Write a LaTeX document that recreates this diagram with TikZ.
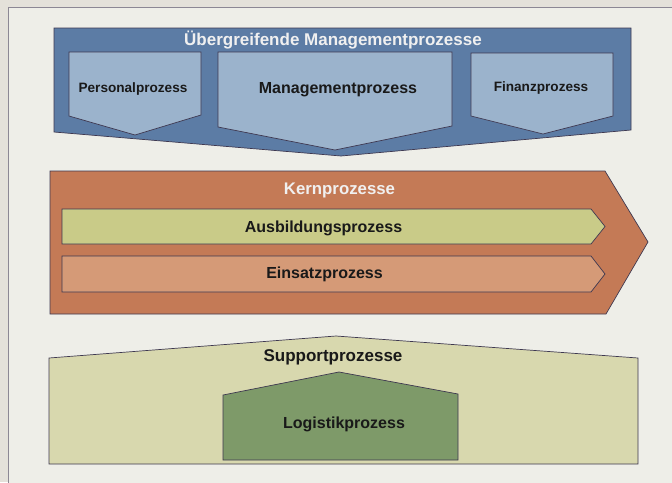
\documentclass[tikz,border=0pt]{standalone}
\usepackage{fontspec}
\setmainfont{Liberation Sans}
\begin{document}
\begin{tikzpicture}[x=1pt,y=-1pt,
  shp/.style={draw=outl, line width=0.7pt, line join=miter},
  lbl/.style={font=\bfseries, text=black!90, inner sep=0pt, anchor=center},
  wlbl/.style={font=\bfseries, text=white!94!black, inner sep=0pt, anchor=center}]
\definecolor{outl}{HTML}{3E3850}
\definecolor{bgout}{HTML}{E4E1DA}
\definecolor{bgin}{HTML}{EEEEE8}
\definecolor{frame}{HTML}{8C8794}
\definecolor{blueout}{HTML}{5C7CA5}
\definecolor{bluein}{HTML}{9BB3CC}
\definecolor{kern}{HTML}{C47A56}
\definecolor{ausb}{HTML}{C9CB88}
\definecolor{eins}{HTML}{D59A77}
\definecolor{supp}{HTML}{D8D8AE}
\definecolor{logi}{HTML}{7E9A69}
\useasboundingbox (0,0) rectangle (672,482);
\fill[bgout] (0,0) rectangle (672,482);
\draw[frame, fill=bgin, line width=1pt] (8,7) rectangle (690,500);
% top: management
\path[shp, fill=blueout] (54,28) -- (631,28) -- (631,130) -- (341,156) -- (54,132) -- cycle;
\path[shp, fill=bluein] (69,52) -- (201,52) -- (201,115) -- (135,135) -- (69,116) -- cycle;
\path[shp, fill=bluein] (218,52) -- (452,52) -- (452,126) -- (335,150) -- (218,127) -- cycle;
\path[shp, fill=bluein] (471,53) -- (613,53) -- (613,116) -- (543,134) -- (471,116) -- cycle;
\node[wlbl, font=\bfseries\fontsize{17}{19}\selectfont] (uebergreifend) at (333,40) {Übergreifende Managementprozesse};
\node[lbl, font=\bfseries\fontsize{13.6}{15}\selectfont] (personal) at (133,89) {Personalprozess};
\node[lbl, font=\bfseries\fontsize{16}{18}\selectfont] (management) at (338,90) {Managementprozess};
\node[lbl, font=\bfseries\fontsize{13.6}{15}\selectfont] (finanz) at (541,88) {Finanzprozess};
% middle: Kernprozesse
\path[shp, fill=kern] (50,171) -- (605,171) -- (648,242) -- (606,314) -- (50,314) -- cycle;
\path[shp, fill=ausb] (62,209) -- (591,209) -- (605,226.5) -- (591,244) -- (62,244) -- cycle;
\path[shp, fill=eins] (62,256) -- (591,256) -- (605,274) -- (591,292) -- (62,292) -- cycle;
\node[wlbl, font=\bfseries\fontsize{16.8}{18}\selectfont] (kern) at (339.5,190) {Kernprozesse};
\node[lbl, font=\bfseries\fontsize{16}{18}\selectfont] (ausbildung) at (323.5,228) {Ausbildungsprozess};
\node[lbl, font=\bfseries\fontsize{16}{18}\selectfont] (einsatz) at (324.5,274) {Einsatzprozess};
% bottom: Support
\path[shp, fill=supp] (49,358) -- (336,336) -- (638,358) -- (638,464) -- (49,464) -- cycle;
\path[shp, fill=logi] (223,395) -- (339,372) -- (458,394) -- (458,460) -- (223,460) -- cycle;
\node[lbl, font=\bfseries\fontsize{17}{19}\selectfont] (support) at (333,357) {Supportprozesse};
\node[lbl, font=\bfseries\fontsize{16}{18}\selectfont] (logistik) at (344,424) {Logistikprozess};
\end{tikzpicture}
\end{document}
